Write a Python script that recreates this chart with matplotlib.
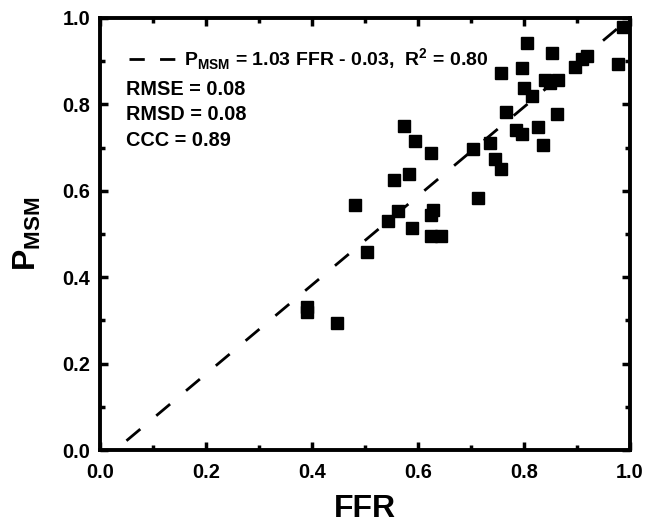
import numpy as np
import matplotlib
matplotlib.use('Agg')
import matplotlib.pyplot as plt
from matplotlib.ticker import MultipleLocator
from matplotlib.lines import Line2D

plt.rcParams['font.family'] = ['Liberation Sans', 'DejaVu Sans']
plt.rcParams['font.weight'] = 'bold'
plt.rcParams['mathtext.fontset'] = 'custom'
plt.rcParams['mathtext.rm'] = 'Liberation Sans:bold'
plt.rcParams['mathtext.bf'] = 'Liberation Sans:bold'

# datos (FFR, P_MSM)
ffr = [0.987, 0.806, 0.852, 0.756, 0.796, 0.896, 0.919, 0.910, 0.977, 0.840,
       0.865, 0.849, 0.800, 0.816, 0.766, 0.863, 0.785, 0.796, 0.827, 0.835,
       0.736, 0.745, 0.756, 0.704, 0.574, 0.594, 0.624, 0.583, 0.555, 0.714,
       0.482, 0.563, 0.544, 0.628, 0.624, 0.589, 0.624, 0.644, 0.503, 0.391,
       0.391, 0.448]
p_msm = [0.980, 0.941, 0.920, 0.872, 0.885, 0.887, 0.911, 0.905, 0.893, 0.856,
         0.856, 0.849, 0.837, 0.820, 0.782, 0.778, 0.741, 0.731, 0.748, 0.706,
         0.711, 0.673, 0.650, 0.697, 0.750, 0.716, 0.687, 0.640, 0.625, 0.584,
         0.567, 0.554, 0.531, 0.556, 0.544, 0.515, 0.495, 0.495, 0.459, 0.330,
         0.320, 0.295]

slope, intercept = 1.03, -0.03
fit_x = np.array([0.05, 1.0])
fit_label = r'P$_{\mathrm{MSM}}$ = 1.03 FFR - 0.03,  R$^{2}$ = 0.80'
stats = ['RMSE = 0.08', 'RMSD = 0.08', 'CCC = 0.89']

fig = plt.figure(figsize=(6.59, 5.32), dpi=100)
ax = fig.add_axes([0.1517, 0.1541, 0.8043, 0.8121])

ax.plot(ffr, p_msm, 's', color='black', markersize=8.5, zorder=3)
ax.plot(fit_x, slope*fit_x + intercept, color='black', lw=2,
        dashes=(6.5, 7.5))

ax.set_xlim(0, 1.0)
ax.set_ylim(0, 1.0)
ax.xaxis.set_major_locator(MultipleLocator(0.2))
ax.xaxis.set_minor_locator(MultipleLocator(0.1))
ax.yaxis.set_major_locator(MultipleLocator(0.2))
ax.yaxis.set_minor_locator(MultipleLocator(0.1))
ax.tick_params(which='both', direction='in', top=True, right=True,
               labelsize=14.3, width=2.5)
ax.tick_params(which='major', length=6)
ax.tick_params(which='minor', length=3.5)
ax.tick_params(axis='x', pad=9)
ax.tick_params(axis='y', pad=7)
for lab in ax.get_xticklabels() + ax.get_yticklabels():
    lab.set_fontweight('bold')
for s in ax.spines.values():
    s.set_linewidth(2.8)

ax.set_xlabel('FFR', fontsize=23, fontweight='bold', labelpad=9)
ax.set_ylabel(r'P$_{\mathrm{MSM}}$', fontsize=23, fontweight='bold', labelpad=14)

# leyenda: linea de ajuste
proxy = Line2D([], [], color='black', lw=2, dashes=(5.5, 5.5))
leg = ax.legend([proxy], [fit_label], loc='upper left', frameon=False,
                fontsize=14, handlelength=2.5, handletextpad=0.3,
                borderaxespad=0.3, bbox_to_anchor=(0.03, 0.966))
for t in leg.get_texts():
    t.set_fontweight('bold')

for i, s in enumerate(stats):
    ax.text(0.05, 0.835 - i*0.059, s, transform=ax.transAxes,
            fontsize=14.3, fontweight='bold', va='center', ha='left')

fig.savefig('out.png', dpi=100)
